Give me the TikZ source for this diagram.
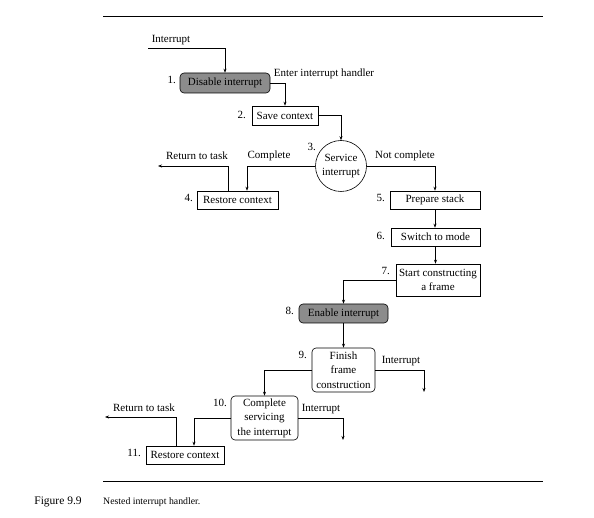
\documentclass[tikz,border=0pt]{standalone}
\usepackage{fontspec}
\setmainfont{Liberation Serif}
\usetikzlibrary{arrows.meta}

\tikzset{
    stepbox/.style={draw, line width=0.6pt, inner sep=0pt, align=center},
    roundbox/.style={stepbox, rounded corners=4pt},
    greybox/.style={roundbox, fill=black!45},
    numlabel/.style={inner sep=0pt, anchor=east},
    flow/.style={-{Stealth[length=4pt,width=3pt]}, line width=0.6pt},
}

\begin{document}
\begin{tikzpicture}[x=1pt, y=-1pt, font=\fontsize{11}{14.5}\selectfont]
    \useasboundingbox (0,0) rectangle (594,518);
    % rules above and below
    \draw[line width=0.6pt] (103,16) -- (543,16);
    \draw[line width=0.6pt] (103,481) -- (543,481);

    % steps
    \node[greybox, minimum width=90, minimum height=20] (dis) at (225,83) {Disable interrupt};
    \node[stepbox, minimum width=66, minimum height=19] (save) at (285,115.5) {Save context};
    \node[draw, line width=0.6pt, circle, minimum size=51, inner sep=0pt, align=center] (serv) at (341,166) {Service\\interrupt};
    \node[stepbox, minimum width=81, minimum height=18] (rest) at (237.5,200) {Restore context};
    \node[stepbox, minimum width=90, minimum height=18] (prep) at (435,200) {Prepare stack};
    \node[stepbox, minimum width=89, minimum height=18] (swit) at (435.5,237) {Switch to mode};
    \node[stepbox, minimum width=84, minimum height=32] (start) at (438,280) {Start constructing\\a frame};
    \node[greybox, minimum width=89, minimum height=19] (enab) at (343.5,313.5) {Enable interrupt};
    \node[roundbox, minimum width=63, minimum height=44] (fin) at (343.5,370) {Finish\\frame\\construction};
    \node[roundbox, minimum width=67, minimum height=44] (compl) at (264.5,418) {Complete\\servicing\\the interrupt};
    \node[stepbox, minimum width=78, minimum height=18] (rest2) at (185,455) {Restore context};

    % step numbers
    \node[numlabel] (n1) at (176,80) {1.};
    \node[numlabel] (n2) at (246,115) {2.};
    \node[numlabel] (n3) at (316,147) {3.};
    \node[numlabel] (n4) at (193,198) {4.};
    \node[numlabel] (n5) at (385,198) {5.};
    \node[numlabel] (n6) at (385,236) {6.};
    \node[numlabel] (n7) at (390,271) {7.};
    \node[numlabel] (n8) at (294,311) {8.};
    \node[numlabel] (n9) at (307,355) {9.};
    \node[numlabel] (n10) at (227,403) {10.};
    \node[numlabel] (n11) at (141,453) {11.};

    % free ends
    \coordinate (inp) at (148,48);
    \coordinate (ret1) at (158,166);
    \coordinate (int1) at (424,392);
    \coordinate (int2) at (343,440);
    \coordinate (ret2) at (105,417);

    % connectors
    \draw[flow] (inp) -| (dis.north);
    \draw[flow] (dis.east) -| (save.north);
    \draw[flow] (save.east) -| (serv.north);
    \draw[flow] (serv.west) -| ([xshift=9.5]rest.north);
    \draw[flow] ([xshift=-9.5]rest.north) |- (ret1);
    \draw[flow] (serv.east) -| (prep.north);
    \draw[flow] (prep.south) -- (prep.south |- swit.north);
    \draw[flow] (swit.south) -- (swit.south |- start.north);
    \draw[flow] (start.west) -| (enab.north);
    \draw[flow] (enab.south) -- (fin.north);
    \draw[flow] (fin.east) -| (int1);
    \draw[flow] (fin.west) -| (compl.north);
    \draw[flow] (compl.east) -| (int2);
    \draw[flow] (compl.west) -| ([xshift=9]rest2.north);
    \draw[flow] ([xshift=-9]rest2.north) |- (ret2);

    % connector labels
    \node (lint) at (171,40) {Interrupt};
    \node (lenter) at (324,74) {Enter interrupt handler};
    \node (lret1) at (197,156) {Return to task};
    \node (lcomp) at (269,156) {Complete};
    \node (lnot) at (405,156) {Not complete};
    \node (lint1) at (401,361) {Interrupt};
    \node (lint2) at (321,409) {Interrupt};
    \node (lret2) at (144,408) {Return to task};

    % caption
    \node[font=\fontsize{11.5}{13}\selectfont] (capnum) at (58,502) {Figure 9.9};
    \node[font=\fontsize{9.8}{11}\selectfont, anchor=west, inner sep=0pt] (captext) at (103,502) {Nested interrupt handler.};
\end{tikzpicture}
\end{document}
